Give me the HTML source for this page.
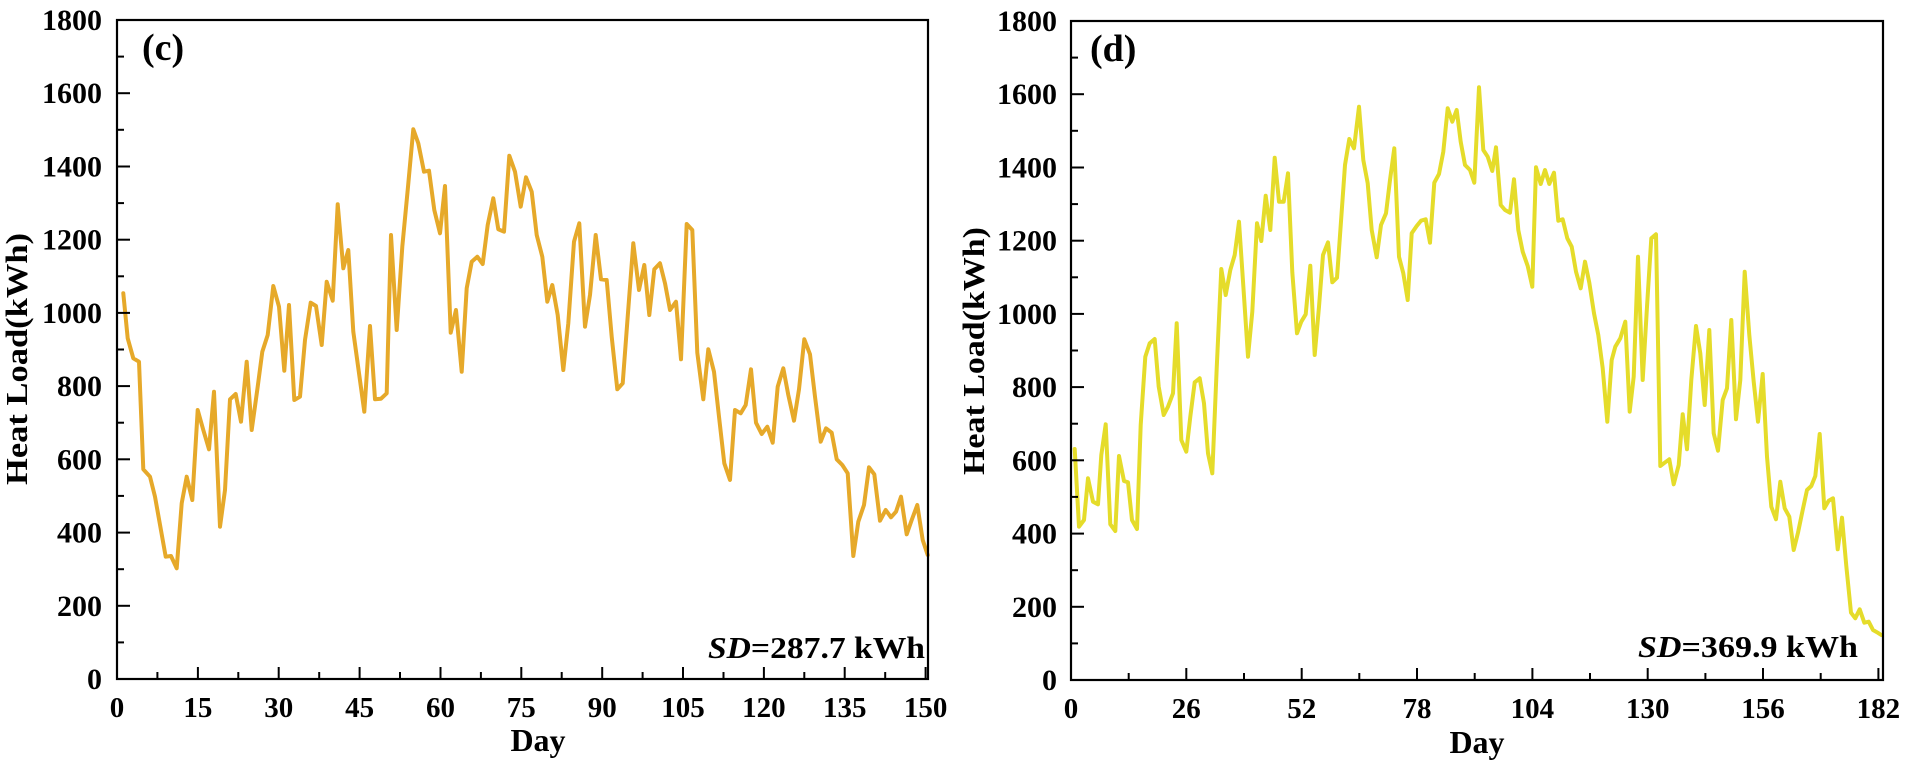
<!DOCTYPE html>
<html>
<head>
<meta charset="utf-8">
<style>
  html,body{margin:0;padding:0;background:#fff;}
  svg{display:block;}
  text{font-family:"Liberation Serif","Times New Roman",serif;font-weight:bold;fill:#000;}
</style>
</head>
<body>
<svg width="1905" height="768" viewBox="0 0 1905 768" xmlns="http://www.w3.org/2000/svg">
<rect x="0" y="0" width="1905" height="768" fill="#fff"/>

<!-- ================= LEFT PLOT (c) ================= -->
<polyline fill="none" stroke="#E6A92A" stroke-width="4" stroke-linejoin="round" stroke-linecap="round"
points="123.3,293.3 127.7,338.3 133.3,358.3 139,361.7 143.3,469.3 150,476.7 155,496.7 165.7,556.7 171,556 176.7,568.3 181.7,503.3 186.7,476.7 192.3,500 197.7,410 203.3,430 209,449.3 214,391.7 220,526.7 225,490 230,399.3 235.7,394 241,421.7 246.7,361.7 251.7,430 257.7,386.7 262.3,351.7 267.7,335 273.3,286 279,306.7 284.3,370.7 289,305 294.3,400 300,396.7 305,340 310.7,302.7 316,306 321.7,345 326.7,281.7 332.7,300.7 337.7,204.3 343.3,268.3 348.3,250 353.3,331.7 364.3,411.7 370,326 375,399.3 381,398.7 386.7,393.3 391,235 396.7,330 402.3,246.7 407.7,190 413.3,129.3 418.3,143.3 424,171.7 429,170.7 434.3,210 440,233.3 445,186 450.7,332.7 456,310 461.7,371.7 466.7,288.3 471.7,261.7 477.3,256.7 482.7,264 487.7,225 493.3,198.3 498.3,229.3 504,231.7 509.3,155.7 515,171.7 520.7,206.7 526,177.3 531.7,191.7 536.7,235 542.3,256.7 547.3,301.7 552.3,285 557.7,315 563.3,370 568.3,323.3 574,241.7 579.3,223.3 585,326.7 590,295 595.7,235 601,279.3 606.7,280 611.7,336.7 617.3,389.3 622.7,383.3 627.7,316.7 633.3,243.3 639,290 644.3,265 649.3,315 654.3,269.3 660,263.3 665,283.3 670,310 676,301.7 681,359.3 686.7,224 692.3,230 697.3,352.7 703.3,399.3 708.3,349.3 714,371.7 719,416.7 724.3,463.3 730,480 735,410 740.7,413.3 745.7,405 751,369.3 756,422.7 761.7,434 767.3,426.7 772.7,442.7 777.7,386.7 783.3,368.3 788.3,395 794,420.7 799,389.3 804.3,339.3 810,354.3 815,396.7 820.7,441.7 826,428.3 831.7,432.7 836.7,459.3 842.3,465 847.7,473.3 853.3,556 858.3,521.7 864,505 869,467.3 874.3,474.3 880,520.7 885.7,510 891,517.3 896,511.7 901,496.7 906.7,534.3 911.7,520 917.3,505 922.7,540 927.7,555"/>

<rect x="117" y="20" width="811" height="659" fill="none" stroke="#000" stroke-width="2.2"/>

<!-- left y ticks -->
<g stroke="#000" stroke-width="2">
<line x1="117" y1="679" x2="130" y2="679"/>
<line x1="117" y1="642.4" x2="124" y2="642.4"/>
<line x1="117" y1="605.8" x2="130" y2="605.8"/>
<line x1="117" y1="569.2" x2="124" y2="569.2"/>
<line x1="117" y1="532.6" x2="130" y2="532.6"/>
<line x1="117" y1="495.9" x2="124" y2="495.9"/>
<line x1="117" y1="459.3" x2="130" y2="459.3"/>
<line x1="117" y1="422.7" x2="124" y2="422.7"/>
<line x1="117" y1="386.1" x2="130" y2="386.1"/>
<line x1="117" y1="349.5" x2="124" y2="349.5"/>
<line x1="117" y1="312.9" x2="130" y2="312.9"/>
<line x1="117" y1="276.3" x2="124" y2="276.3"/>
<line x1="117" y1="239.7" x2="130" y2="239.7"/>
<line x1="117" y1="203.1" x2="124" y2="203.1"/>
<line x1="117" y1="166.5" x2="130" y2="166.5"/>
<line x1="117" y1="129.8" x2="124" y2="129.8"/>
<line x1="117" y1="93.2" x2="130" y2="93.2"/>
<line x1="117" y1="56.6" x2="124" y2="56.6"/>
</g>
<!-- left x ticks -->
<g stroke="#000" stroke-width="2">
<line x1="157.4" y1="679" x2="157.4" y2="672"/>
<line x1="197.9" y1="679" x2="197.9" y2="667"/>
<line x1="238.3" y1="679" x2="238.3" y2="672"/>
<line x1="278.7" y1="679" x2="278.7" y2="667"/>
<line x1="319.2" y1="679" x2="319.2" y2="672"/>
<line x1="359.6" y1="679" x2="359.6" y2="667"/>
<line x1="400" y1="679" x2="400" y2="672"/>
<line x1="440.5" y1="679" x2="440.5" y2="667"/>
<line x1="480.9" y1="679" x2="480.9" y2="672"/>
<line x1="521.3" y1="679" x2="521.3" y2="667"/>
<line x1="561.7" y1="679" x2="561.7" y2="672"/>
<line x1="602.2" y1="679" x2="602.2" y2="667"/>
<line x1="642.6" y1="679" x2="642.6" y2="672"/>
<line x1="683" y1="679" x2="683" y2="667"/>
<line x1="723.5" y1="679" x2="723.5" y2="672"/>
<line x1="763.9" y1="679" x2="763.9" y2="667"/>
<line x1="804.3" y1="679" x2="804.3" y2="672"/>
<line x1="844.7" y1="679" x2="844.7" y2="667"/>
<line x1="885.2" y1="679" x2="885.2" y2="672"/>
<line x1="925.6" y1="679" x2="925.6" y2="667"/>
</g>

<!-- left y labels -->
<g font-size="30" text-anchor="end">
<text x="102" y="30">1800</text>
<text x="102" y="103.2">1600</text>
<text x="102" y="176.5">1400</text>
<text x="102" y="249.7">1200</text>
<text x="102" y="322.9">1000</text>
<text x="102" y="396.1">800</text>
<text x="102" y="469.3">600</text>
<text x="102" y="542.6">400</text>
<text x="102" y="615.8">200</text>
<text x="102" y="689">0</text>
</g>
<!-- left x labels -->
<g font-size="29" text-anchor="middle">
<text x="117" y="717">0</text>
<text x="197.9" y="717">15</text>
<text x="278.7" y="717">30</text>
<text x="359.6" y="717">45</text>
<text x="440.5" y="717">60</text>
<text x="521.3" y="717">75</text>
<text x="602.2" y="717">90</text>
<text x="683" y="717">105</text>
<text x="763.9" y="717">120</text>
<text x="844.7" y="717">135</text>
<text x="925.6" y="717">150</text>
</g>
<text x="538" y="751" font-size="32" text-anchor="middle">Day</text>
<text transform="translate(27,359) rotate(-90)" font-size="31" text-anchor="middle" textLength="252" lengthAdjust="spacingAndGlyphs">Heat Load(kWh)</text>
<text x="142" y="60" font-size="38">(c)</text>
<text x="708" y="658" font-size="31" textLength="217" lengthAdjust="spacingAndGlyphs"><tspan font-style="italic">SD</tspan>=287.7 kWh</text>

<!-- ================= RIGHT PLOT (d) ================= -->
<polyline fill="none" stroke="#E5DC2A" stroke-width="4" stroke-linejoin="round" stroke-linecap="round"
points="1074.7,449 1079,526.7 1084,520 1088,478.3 1093,501.7 1098,504.3 1101.3,455 1105.7,424.3 1110.3,524.3 1115.3,531 1119,456 1124,481 1128,482.3 1132,520 1137,529 1140.7,425 1145.3,356.7 1149.7,343.3 1154.7,339 1158.7,386.7 1163.7,415 1168,406.7 1173,393.3 1176.7,323.3 1181.3,440 1186.3,451.7 1190.3,416.7 1194.7,382.3 1199.7,378.3 1204,403.3 1208,453.3 1212.3,473.3 1216.7,368.3 1221.3,269 1225.7,295 1230.3,270 1234.7,255 1239,221.7 1243.7,291.7 1248,356.7 1252.3,311.7 1257,223.3 1261.3,241 1265.7,195.7 1270.3,230 1274.7,157.7 1279,201.7 1283.7,201.7 1288,173.3 1292.3,272.3 1297,333.3 1301.3,321.7 1305.7,314.3 1310.3,265.7 1314.7,355 1319,306.7 1323,255 1328,242.3 1332.3,282.3 1337,277.7 1345,165 1349.3,139 1354,148.3 1359,106.7 1363.3,160 1367.7,183.3 1371.7,230 1376.7,257.3 1381,225 1386,213.3 1390,180 1394.3,148.3 1399,256.7 1403.3,273.3 1407.7,300 1411.7,233.3 1416.7,226 1421,220.7 1425.7,219.3 1430,242.7 1434.3,182.7 1439,174 1443.3,151.7 1447.7,108.3 1452.3,121.7 1456.7,110 1460.7,141.7 1465,165 1470,170 1474.3,182.7 1479,87.3 1483.3,150 1487.7,156.7 1492.3,171 1496,147.3 1500.7,205 1505,210 1510,212.7 1514,179.3 1518.3,230 1522.7,251.7 1527.7,266 1532.3,286.7 1536,167.3 1540.7,184 1545,170 1549.3,184 1554,172.7 1558.3,220.7 1562.7,219.3 1567.3,238.3 1571.7,246.7 1576,271.7 1580.7,288.3 1585,261.7 1589.3,282.7 1594,313.3 1598.3,335 1602.7,368.3 1607.3,421.7 1611.7,360 1615.3,346.7 1620.3,338.3 1625.3,321.7 1629.7,411.7 1633.7,376.7 1638,256.7 1642.7,380 1647,306.7 1651.3,238.3 1656,234.3 1660.3,466 1664.7,462.7 1669.3,459.3 1673.7,484.3 1678.7,465 1682.7,414.3 1687,449.3 1691.3,380 1696,326 1700.3,353.3 1704.7,405 1709.3,330 1713.7,433.3 1718,450.7 1722.7,400 1727,388.3 1731.3,320 1736,419.3 1740.3,380 1744.7,271.7 1749.3,335 1753.7,381.7 1758,421.7 1762.7,374 1767,456.7 1771.3,506.7 1776,519.3 1780.3,481.7 1784.7,508.3 1789.3,516.7 1793.7,550 1798,532.7 1802.7,510 1807,490 1811.3,486 1815.3,476 1819.7,434 1824.3,508.3 1828.7,500.7 1833,498.3 1837.7,549.3 1842,517.7 1846.3,566 1851,612.7 1855.3,618.3 1859.7,609.3 1864.3,622.7 1868.7,621.7 1873,630 1877.7,632.7 1881.3,635"/>

<rect x="1071" y="21" width="812" height="659" fill="none" stroke="#000" stroke-width="2.2"/>

<!-- right y ticks -->
<g stroke="#000" stroke-width="2">
<line x1="1071" y1="680" x2="1084" y2="680"/>
<line x1="1071" y1="643.4" x2="1078" y2="643.4"/>
<line x1="1071" y1="606.8" x2="1084" y2="606.8"/>
<line x1="1071" y1="570.2" x2="1078" y2="570.2"/>
<line x1="1071" y1="533.6" x2="1084" y2="533.6"/>
<line x1="1071" y1="496.9" x2="1078" y2="496.9"/>
<line x1="1071" y1="460.3" x2="1084" y2="460.3"/>
<line x1="1071" y1="423.7" x2="1078" y2="423.7"/>
<line x1="1071" y1="387.1" x2="1084" y2="387.1"/>
<line x1="1071" y1="350.5" x2="1078" y2="350.5"/>
<line x1="1071" y1="313.9" x2="1084" y2="313.9"/>
<line x1="1071" y1="277.3" x2="1078" y2="277.3"/>
<line x1="1071" y1="240.7" x2="1084" y2="240.7"/>
<line x1="1071" y1="204.1" x2="1078" y2="204.1"/>
<line x1="1071" y1="167.5" x2="1084" y2="167.5"/>
<line x1="1071" y1="130.8" x2="1078" y2="130.8"/>
<line x1="1071" y1="94.2" x2="1084" y2="94.2"/>
<line x1="1071" y1="57.6" x2="1078" y2="57.6"/>
</g>
<!-- right x ticks -->
<g stroke="#000" stroke-width="2">
<line x1="1128.7" y1="680" x2="1128.7" y2="673"/>
<line x1="1186.3" y1="680" x2="1186.3" y2="668"/>
<line x1="1244" y1="680" x2="1244" y2="673"/>
<line x1="1301.7" y1="680" x2="1301.7" y2="668"/>
<line x1="1359.3" y1="680" x2="1359.3" y2="673"/>
<line x1="1417" y1="680" x2="1417" y2="668"/>
<line x1="1474.7" y1="680" x2="1474.7" y2="673"/>
<line x1="1532.4" y1="680" x2="1532.4" y2="668"/>
<line x1="1590" y1="680" x2="1590" y2="673"/>
<line x1="1647.7" y1="680" x2="1647.7" y2="668"/>
<line x1="1705.4" y1="680" x2="1705.4" y2="673"/>
<line x1="1763" y1="680" x2="1763" y2="668"/>
<line x1="1820.7" y1="680" x2="1820.7" y2="673"/>
<line x1="1878.4" y1="680" x2="1878.4" y2="668"/>
</g>

<!-- right y labels -->
<g font-size="30" text-anchor="end">
<text x="1057" y="31">1800</text>
<text x="1057" y="104.2">1600</text>
<text x="1057" y="177.5">1400</text>
<text x="1057" y="250.7">1200</text>
<text x="1057" y="323.9">1000</text>
<text x="1057" y="397.1">800</text>
<text x="1057" y="470.3">600</text>
<text x="1057" y="543.6">400</text>
<text x="1057" y="616.8">200</text>
<text x="1057" y="690">0</text>
</g>
<!-- right x labels -->
<g font-size="29" text-anchor="middle">
<text x="1071" y="718">0</text>
<text x="1186.3" y="718">26</text>
<text x="1301.7" y="718">52</text>
<text x="1417" y="718">78</text>
<text x="1532.4" y="718">104</text>
<text x="1647.7" y="718">130</text>
<text x="1763" y="718">156</text>
<text x="1878.4" y="718">182</text>
</g>
<text x="1477" y="753" font-size="32" text-anchor="middle">Day</text>
<text transform="translate(984,351) rotate(-90)" font-size="31" text-anchor="middle" textLength="248" lengthAdjust="spacingAndGlyphs">Heat Load(kWh)</text>
<text x="1090" y="61" font-size="38">(d)</text>
<text x="1638" y="657" font-size="31" textLength="220" lengthAdjust="spacingAndGlyphs"><tspan font-style="italic">SD</tspan>=369.9 kWh</text>
</svg>
</body>
</html>
